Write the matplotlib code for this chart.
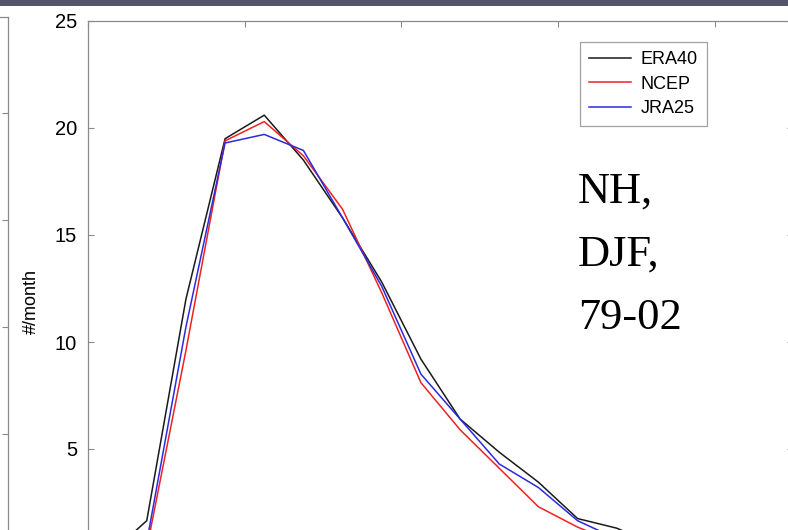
import numpy as np
import matplotlib
matplotlib.use("Agg")
import matplotlib.pyplot as plt
from matplotlib.patches import Rectangle

# bin centres and monthly counts for each reanalysis
bins  = [0.5, 1.5, 2.5, 3.5, 4.5, 5.5, 6.5, 7.5, 8.5, 9.5, 10.5, 11.5, 12.5, 13.5, 14.5, 15.5]
era40 = [0.0, 1.65, 12.0, 19.5, 20.6, 18.5, 15.8, 12.8, 9.2, 6.4, 4.85, 3.45, 1.75, 1.3, 0.5, 0.2]
ncep  = [0.0, 0.35, 9.6, 19.4, 20.3, 18.7, 16.2, 12.3, 8.1, 5.9, 4.1, 2.3, 1.35, 0.6, 0.3, 0.1]
jra25 = [0.0, 0.65, 10.7, 19.3, 19.7, 18.95, 15.8, 12.6, 8.5, 6.4, 4.3, 3.2, 1.65, 0.8, 0.4, 0.1]

W, H = 788, 530
fig = plt.figure(figsize=(W / 100, H / 100), dpi=100)
fig.patch.set_facecolor("white")

def px(l, t, r, b):
    # pixel box -> figure fraction [left, bottom, width, height]
    return [l / W, 1 - b / H, (r - l) / W, (b - t) / H]

grey = "#8a8a8a"

# neighbouring panel on the left (only its right edge shows)
axl = fig.add_axes(px(-400, 17, 8, 17 + 24.5 * 21.4))
axl.set_ylim(0, 24.5)
axl.set_xlim(0, 1)
for s in ["left", "bottom"]:
    axl.spines[s].set_visible(False)
for s in ["right", "top"]:
    axl.spines[s].set_color(grey)
    axl.spines[s].set_linewidth(0.9)
axl.set_xticks([])
axl.yaxis.tick_right()
axl.set_yticks([5, 10, 15, 20])
axl.tick_params(axis="y", direction="in", length=4.3, color=grey, labelright=False)

# main panel
ax = fig.add_axes(px(88, 21, 793, 21 + 25 * 21.4))
ax.plot(bins, era40, color="#1a1a1a", lw=1.1, label="ERA40")
ax.plot(bins, ncep, color="#ee2222", lw=1.1, label="NCEP")
ax.plot(bins, jra25, color="#2a2ae0", lw=1.1, label="JRA25")
ax.set_xlim(0, 18)
ax.set_ylim(0, 25)
ax.set_yticks([5, 10, 15, 20, 25])
ax.set_xticks([0, 4, 8, 12, 16])
for s in ax.spines.values():
    s.set_color(grey)
    s.set_linewidth(0.9)
ax.tick_params(direction="in", length=4.3, color=grey, top=True, right=True,
               labelsize=14.5, pad=8)
ax.tick_params(axis="x", labelbottom=False)
for lab in ax.get_yticklabels():
    lab.set_family("Liberation Sans")
ax.set_ylabel("#/month", fontsize=13, family="Liberation Sans")
ax.yaxis.set_label_coords(-0.068, 0.475)

leg = ax.legend(loc="upper left", bbox_to_anchor=((580 - 88) / 705, 1 - (42 - 21) / 535),
                prop={"family": "Liberation Sans", "size": 13},
                frameon=True, fancybox=False, handlelength=2.3, handletextpad=0.55,
                labelspacing=0.42, borderpad=0.5, borderaxespad=0)
leg.get_frame().set_edgecolor(grey)
leg.get_frame().set_linewidth(0.9)

fig.text(578 / W, 1 - 172 / H, "NH,\nDJF,\n79-02", fontsize=32,
         family="Liberation Serif", va="top", ha="left", linespacing=1.74)

# slide title strip
fig.patches.append(Rectangle((0, 1 - 6 / H), 1, 6 / H, transform=fig.transFigure,
                             facecolor="#53566a", edgecolor="none", zorder=10))

fig.savefig("out.png", dpi=100)
